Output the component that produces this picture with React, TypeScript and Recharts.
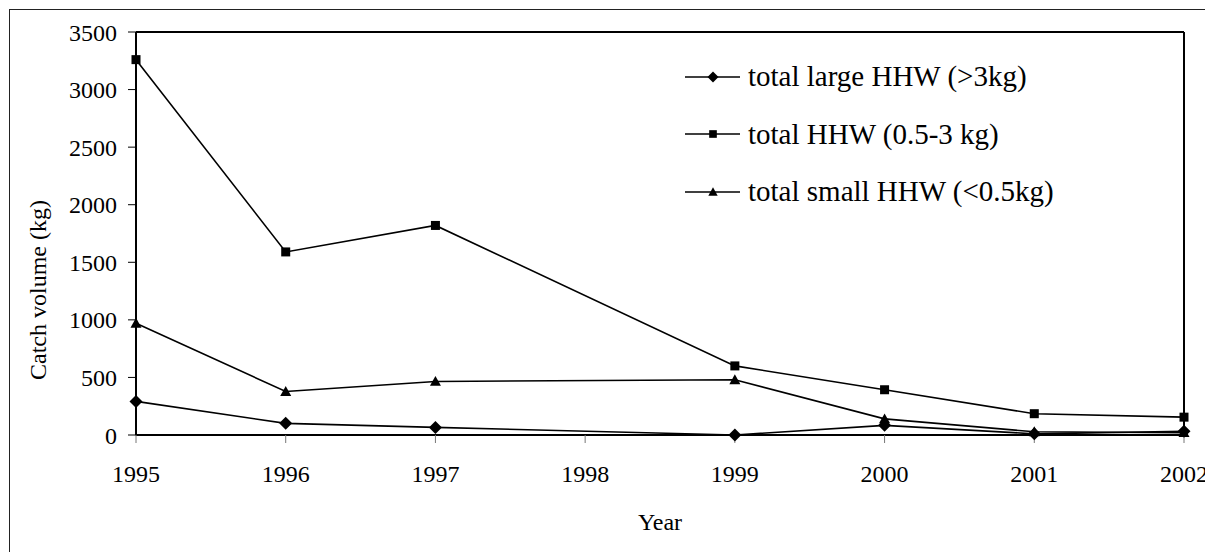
import {
  LineChart,
  Line,
  XAxis,
  YAxis,
  Legend,
  ReferenceLine,
} from "recharts";

const years = ["1995", "1996", "1997", "1998", "1999", "2000", "2001", "2002"];
const largeHHW = [292, 101, 66, null, 0, 84, 10, 33];
const mediumHHW = [3260, 1590, 1820, null, 600, 393, 185, 155];
const smallHHW = [970, 378, 465, null, 480, 140, 28, 20];
const yTicks = [0, 500, 1000, 1500, 2000, 2500, 3000, 3500];

const series = [
  { key: "large", name: "total large HHW (>3kg)", shape: "diamond" },
  { key: "medium", name: "total HHW (0.5-3 kg)", shape: "square" },
  { key: "small", name: "total small HHW (<0.5kg)", shape: "triangle" },
];

const data = years.map((year, i) => ({
  year,
  large: largeHHW[i],
  medium: mediumHHW[i],
  small: smallHHW[i],
}));

const FONT = "Liberation Serif";

function Marker({ shape, cx, cy, s = 1 }: { shape: string; cx: number; cy: number; s?: number }) {
  if (shape === "diamond") {
    const r = 6.5 * s;
    return <polygon points={`${cx},${cy - r} ${cx + r},${cy} ${cx},${cy + r} ${cx - r},${cy}`} fill="#000" />;
  }
  if (shape === "square") {
    const r = 4.5 * s;
    return <rect x={cx - r} y={cy - r} width={r * 2} height={r * 2} fill="#000" />;
  }
  const r = 5.5 * s;
  return <polygon points={`${cx},${cy - r} ${cx + r},${cy + r * 0.8} ${cx - r},${cy + r * 0.8}`} fill="#000" />;
}

function makeDot(shape: string) {
  return (props: any) => {
    const { cx, cy, index, value } = props;
    if (cy == null || value == null || isNaN(cy)) return <g key={`d-${shape}-${index}`} />;
    return (
      <g key={`d-${shape}-${index}`}>
        <Marker shape={shape} cx={cx} cy={cy} />
      </g>
    );
  };
}

function LegendBox() {
  return (
    <div style={{ fontFamily: FONT, fontSize: 29, color: "#000" }}>
      {series.map((s) => (
        <div key={s.key} style={{ display: "flex", alignItems: "center", height: 57.5 }}>
          <svg width={63} height={20} style={{ flex: "none" }}>
            <line x1={0} y1={10} x2={55} y2={10} stroke="#000" strokeWidth={1.6} />
            <Marker shape={s.shape} cx={28} cy={10} s={0.85} />
          </svg>
          <span style={{ whiteSpace: "nowrap" }}>{s.name}</span>
        </div>
      ))}
    </div>
  );
}

export default function App() {
  return (
    <div style={{ position: "relative", width: 1205, height: 544, fontFamily: FONT }}>
      <div
        style={{
          position: "absolute",
          left: 1,
          top: 1,
          width: 1204,
          height: 543,
          borderTop: "1.5px solid #222",
          borderLeft: "1.5px solid #222",
          boxSizing: "border-box",
        }}
      />
      <div style={{ position: "absolute", left: 0, top: 0 }}>
        <LineChart
          width={1205}
          height={544}
          data={data}
          margin={{ top: 24, right: 29, left: 0, bottom: 17 }}
        >
          <XAxis
            dataKey="year"
            height={100}
            tickSize={8}
            tickMargin={22}
            axisLine={{ stroke: "#000", strokeWidth: 2 }}
            tickLine={{ stroke: "#777", strokeWidth: 1 }}
            tick={{ fill: "#000", fontSize: 24, fontFamily: FONT }}
            interval={0}
            label={{
              value: "Year",
              position: "insideBottom",
              offset: 5,
              fill: "#000",
              fontSize: 24,
              fontFamily: FONT,
            }}
          />
          <YAxis
            width={128}
            domain={[0, 3500]}
            ticks={yTicks}
            interval={0}
            tickSize={8}
            tickMargin={11}
            axisLine={{ stroke: "#000", strokeWidth: 2 }}
            tickLine={{ stroke: "#000", strokeWidth: 1 }}
            tick={{ fill: "#000", fontSize: 24, fontFamily: FONT }}
            label={{
              content: () => (
                <text
                  x={30}
                  y={282}
                  transform="rotate(-90 30 282)"
                  textAnchor="middle"
                  dominantBaseline="central"
                  fill="#000"
                  fontSize={24}
                  fontFamily={FONT}
                >
                  Catch volume (kg)
                </text>
              ),
            }}
          />
          <ReferenceLine y={3500} stroke="#000" strokeWidth={2} />
          <ReferenceLine x="2002" stroke="#000" strokeWidth={2} />
          <Legend
            layout="vertical"
            align="center"
            verticalAlign="middle"
            wrapperStyle={{ left: 677, top: 40, width: "auto" }}
            content={() => <LegendBox />}
          />
          {series.map((s) => (
            <Line
              key={s.key}
              type="linear"
              dataKey={s.key}
              name={s.name}
              stroke="#000"
              strokeWidth={1.6}
              connectNulls
              dot={makeDot(s.shape)}
              activeDot={false}
              isAnimationActive={false}
            />
          ))}
        </LineChart>
      </div>
    </div>
  );
}
